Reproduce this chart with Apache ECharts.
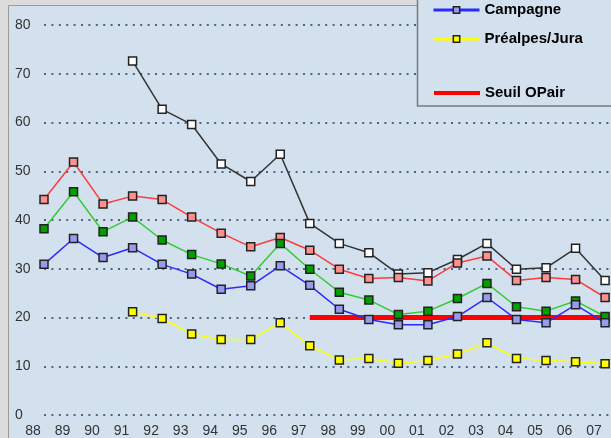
<!DOCTYPE html>
<html>
<head>
<meta charset="utf-8">
<script src="https://cdn.jsdelivr.net/npm/echarts@6/dist/echarts.min.js"></script>
<style>
html,body{margin:0;padding:0;background:#dcdcdc;}
#c{width:611px;height:438px;}
</style>
</head>
<body>
<div id="c"></div>
<script>
const years = ['88','89','90','91','92','93','94','95','96','97','98','99','00','01','02','03','04','05','06','07'];
const yTicks = [0,10,20,30,40,50,60,70,80];
const serieNoire = [null,null,null,72.6,62.7,59.6,51.5,47.9,53.5,39.3,35.2,33.3,28.9,29.2,31.9,35.2,29.9,30.2,34.2,27.6];
const serieRouge = [44.2,51.9,43.3,44.9,44.2,40.6,37.3,34.5,36.4,33.8,29.9,28.0,28.2,27.5,31.2,32.6,27.6,28.2,27.8,24.1];
const serieVerte = [38.2,45.8,37.6,40.6,35.9,32.9,31.0,28.5,35.2,29.9,25.2,23.6,20.6,21.3,23.9,27.0,22.2,21.3,23.4,20.2];
const campagne = [30.9,36.2,32.3,34.3,30.9,28.9,25.8,26.5,30.6,26.6,21.7,19.6,18.5,18.5,20.2,24.1,19.6,18.9,22.6,18.9];
const prealpes = [null,null,null,21.2,19.8,16.6,15.5,15.5,18.9,14.2,11.3,11.6,10.6,11.2,12.5,14.8,11.6,11.2,10.9,10.5];
const seuil = [null,null,null,null,null,null,null,null,null,20,20,20,20,20,20,20,20,20,20,20];

const toPairs = arr => arr.map((v,i) => [i, v]);
const FONT = '"Liberation Sans Narrow","Liberation Sans",Arial,sans-serif';

function lineSeries(name, data, lineColor, markerColor, z){
  return {
    name: name, type: 'line', data: toPairs(data), z: z,
    symbol: 'rect', symbolSize: 8, showAllSymbol: true,
    connectNulls: false, animation: false,
    lineStyle: {color: lineColor, width: 1.5},
    itemStyle: {color: markerColor, borderColor: '#222', borderWidth: 1.5},
    emphasis: {disabled: true}
  };
}

const chart = echarts.init(document.getElementById('c'), null, {renderer: 'canvas'});
chart.setOption({
  backgroundColor: '#dcdcdc',
  animation: false,
  graphic: [
    {type: 'rect', z: -10, silent: true, shape: {x: 8.5, y: 5.5, width: 700, height: 500},
     style: {fill: '#d3e1ef', stroke: '#9a9a9a', lineWidth: 1}},
    {type: 'rect', z: 10, silent: true, shape: {x: 417.5, y: -5, width: 300, height: 111},
     style: {fill: '#d3e1ef', stroke: '#7a7a7a', lineWidth: 1.5}}
  ],
  grid: {left: 44, right: 0, top: 25, bottom: 23, containLabel: false},
  xAxis: {
    type: 'value', min: 0, max: 19.2, interval: 1,
    axisLine: {show: false}, axisTick: {show: false}, splitLine: {show: false},
    axisLabel: {
      showMaxLabel: false, margin: 9, fontFamily: FONT, fontSize: 14, color: '#333',
      padding: [0, 22, 0, 0],
      formatter: v => (Number.isInteger(v) && years[v] !== undefined) ? years[v] : ''
    }
  },
  yAxis: {
    type: 'value', min: 0, max: 80, interval: 10,
    axisLine: {show: false}, axisTick: {show: false},
    axisLabel: {align: 'left', margin: 29, fontFamily: FONT, fontSize: 14, color: '#333',
      formatter: v => yTicks.includes(v) ? String(v) : ''},
    splitLine: {show: true, lineStyle: {color: '#4d6585', width: 2, type: [2, 5.4]}}
  },
  legend: [
    {
      data: [
        {name: 'Campagne', itemStyle: {color: '#9999ee', borderColor: '#222', borderWidth: 1.5}, lineStyle: {width: 3, color: '#2a2aff'}},
        {name: 'Préalpes/Jura', itemStyle: {color: '#ffff00', borderColor: '#222', borderWidth: 1.5}, lineStyle: {width: 3, color: '#ffff00'}}
      ],
      orient: 'vertical', left: 427, top: -5, z: 20,
      itemWidth: 46, itemHeight: 8, itemGap: 9, itemTextGap: 6,
      selectedMode: false,
      textStyle: {fontFamily: FONT, fontSize: 15, fontWeight: 'bold', color: '#000', lineHeight: 20}
    },
    {
      data: [{name: 'Seuil OPair', itemStyle: {color: 'rgba(0,0,0,0)', borderWidth: 0}, lineStyle: {width: 4, color: '#ff0000'}}],
      orient: 'vertical', left: 427, top: 78, z: 20,
      itemWidth: 46, itemHeight: 8, itemTextGap: 6,
      selectedMode: false,
      textStyle: {fontFamily: FONT, fontSize: 15, fontWeight: 'bold', color: '#000', lineHeight: 20}
    }
  ],
  series: [
    lineSeries('Série 1', serieNoire, '#333333', '#ffffff', 3),
    lineSeries('Série 2', serieRouge, '#ff3b3b', '#ff9090', 3),
    lineSeries('Série 3', serieVerte, '#33cc33', '#00a000', 3),
    lineSeries('Campagne', campagne, '#2a2aff', '#9999ee', 3),
    lineSeries('Préalpes/Jura', prealpes, '#ffff00', '#ffff00', 3),
    {
      name: 'Seuil OPair', type: 'line', data: toPairs(seuil), z: 2,
      symbol: 'none', connectNulls: false, animation: false,
      lineStyle: {color: '#ff0000', width: 5},
      itemStyle: {color: '#ff0000'},
      emphasis: {disabled: true}
    }
  ]
});
</script>
</body>
</html>
